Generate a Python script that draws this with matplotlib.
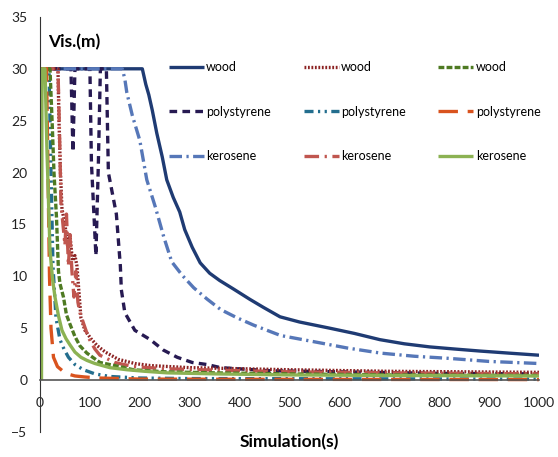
import matplotlib
matplotlib.use("Agg")
import matplotlib.pyplot as plt

plt.rcParams['font.family'] = ['Lato', 'DejaVu Sans']
plt.rcParams['lines.scale_dashes'] = False

# ---------------------------------------------------------------- data
labels = ['wood', 'polystyrene', 'kerosene',
          'wood', 'polystyrene', 'kerosene',
          'wood', 'polystyrene', 'kerosene']

wood_a_t = [0, 205, 212, 218, 225, 234, 245, 254, 267, 280, 290, 305, 321, 340, 360,
            387, 420, 448, 481, 520, 581, 630, 681, 730, 781, 830, 882, 940, 1000]
wood_a_v = [30, 30, 28.5, 27.5, 26, 23.8, 21.5, 19.3, 17.6, 16.2, 14.5, 12.8, 11.3, 10.3, 9.6,
            8.8, 7.8, 7.0, 6.1, 5.6, 5.0, 4.5, 3.9, 3.5, 3.2, 3.0, 2.8, 2.6, 2.4]

poly_a_t = [0, 62, 66, 70, 100, 103, 112, 117, 121, 133, 137, 153, 161, 163, 170, 190,
            221, 247, 275, 305, 335, 362, 428, 462, 600, 800, 1000]
poly_a_v = [30, 30, 22, 30, 30, 21, 12, 21, 30, 30, 20, 16, 11, 8.7, 6.5, 4.8,
            3.9, 2.9, 2.2, 1.7, 1.5, 1.2, 1.0, 0.9, 0.8, 0.65, 0.6]

kero_a_t = [0, 165, 170, 174, 185, 200, 214, 231, 248, 264, 285, 308, 335, 362, 395,
            428, 482, 549, 615, 683, 750, 818, 900, 1000]
kero_a_v = [30, 30, 29, 27.7, 25.5, 23.1, 19.3, 16.7, 13.8, 11.4, 10.1, 8.9, 7.8, 6.8, 6.0,
            5.3, 4.3, 3.7, 3.1, 2.6, 2.3, 2.1, 1.8, 1.6]

wood_b_t = [0, 36, 38, 41, 44, 50, 55, 60, 65, 70, 74, 78, 82, 90, 102, 115, 131, 157,
            190, 221, 300, 400, 500, 700, 1000]
wood_b_v = [30, 30, 25, 20, 16.5, 15, 13, 14, 11.5, 12, 11, 8.5, 6.0, 4.8, 4.0, 3.3, 2.7, 2.0,
            1.6, 1.4, 1.2, 1.1, 1.0, 0.85, 0.75]

poly_b_t = [0, 18, 22, 26, 32, 40, 48, 57, 70, 87, 110, 140, 200, 300, 1000]
poly_b_v = [30, 30, 20, 11, 6, 3.9, 3.0, 2.2, 1.5, 1.0, 0.6, 0.35, 0.2, 0.15, 0.1]

kero_b_t = [0, 36, 39, 42, 46, 50, 53, 57, 60, 64, 68, 72, 76, 80, 87, 97, 110, 120,
            150, 187, 250, 320, 500, 700, 1000]
kero_b_v = [30, 30, 24, 17, 15, 13, 16, 11, 14, 10.5, 8, 10.5, 7.5, 6.5, 5.5, 4.1, 3.0, 2.4,
            1.7, 1.3, 1.1, 1.0, 0.8, 0.7, 0.6]

wood_c_t = [0, 20, 25, 28, 33, 37, 40, 47, 53, 60, 70, 80, 94, 120, 160, 187, 250,
            350, 500, 700, 1000]
wood_c_v = [30, 30, 24, 20, 15.7, 10.5, 9.3, 8.0, 6.3, 5.4, 4.2, 3.3, 2.6, 1.7, 1.3, 1.0, 0.8,
            0.7, 0.6, 0.5, 0.45]

poly_c_t = [0, 13, 16, 19, 22, 27, 35, 45, 55, 70, 90, 120, 200, 400, 1000]
poly_c_v = [30, 30, 20, 10, 5, 2.2, 1.3, 0.9, 0.6, 0.4, 0.3, 0.2, 0.1, 0.08, 0.05]

kero_c_t = [3, 4, 10, 14, 20, 25, 30, 37, 44, 52, 60, 70, 82, 94, 110, 140, 174, 210,
            254, 350, 500, 700, 1000]
kero_c_v = [0, 30, 30, 22, 12.5, 9.8, 8.0, 6.2, 4.8, 4.0, 3.4, 2.7, 2.2, 1.9, 1.6, 1.2, 1.0, 0.85,
            0.7, 0.6, 0.5, 0.45, 0.4]

x_ticks = [0, 100, 200, 300, 400, 500, 600, 700, 800, 900, 1000]
y_ticks = [-5, 0, 5, 10, 15, 20, 25, 30, 35]

# ---------------------------------------------------------------- styles
series = [
    (wood_a_t, wood_a_v, '#1F3B73', None),
    (poly_a_t, poly_a_v, '#271A52', (5.5, 3.8)),
    (kero_a_t, kero_a_v, '#5677B8', (9, 3.2, 1.6, 3.2)),
    (wood_b_t, wood_b_v, '#8C2323', (1.3, 1.2)),
    (poly_b_t, poly_b_v, '#236E8E', (6.5, 3.2, 1.6, 3.2, 1.6, 3.2)),
    (kero_b_t, kero_b_v, '#C0564F', (10.5, 4, 1.6, 4)),
    (wood_c_t, wood_c_v, '#4E7A22', (4.2, 1.6)),
    (poly_c_t, poly_c_v, '#D9531E', (14, 7)),
    (kero_c_t, kero_c_v, '#8CB253', None),
]

fig = plt.figure(figsize=(5.58, 4.57), dpi=100)
ax = fig.add_axes([0.0717, 0.0547, 0.8943, 0.9083])

for (t, v, col, dash), lab in zip(series, labels):
    line, = ax.plot(t, v, color=col, lw=2.4, label=lab, solid_capstyle='butt')
    if dash is not None:
        line.set_dashes(dash)

ax.set_xlim(0, 1000)
ax.set_ylim(-5, 35)
ax.set_xticks(x_ticks)
ax.set_yticks(y_ticks)

ax.spines['top'].set_visible(False)
ax.spines['right'].set_visible(False)
ax.spines['bottom'].set_position(('data', 0))
ax.spines['bottom'].set_color('#555555')
ax.spines['bottom'].set_linewidth(1.2)
ax.spines['left'].set_color('#333333')
ax.spines['left'].set_linewidth(0.8)

ax.tick_params(axis='both', length=0, labelsize=10, colors='#222222')
ax.tick_params(axis='x', pad=12)
ax.tick_params(axis='y', pad=9)

ax.text(16, 32.6, 'Vis.(m)', fontsize=12.5, fontweight='bold', ha='left', va='center')
ax.text(500, -6.0, 'Simulation(s)', fontsize=12.5, fontweight='bold',
        ha='center', va='center', clip_on=False)

ax.legend(ncol=3, loc='upper left', bbox_to_anchor=(0.258, 0.893),
          frameon=False, fontsize=9, handlelength=2.8, handletextpad=0.2,
          labelspacing=2.6, columnspacing=2.6, borderpad=0, borderaxespad=0)

fig.savefig('out.png', dpi=100)
